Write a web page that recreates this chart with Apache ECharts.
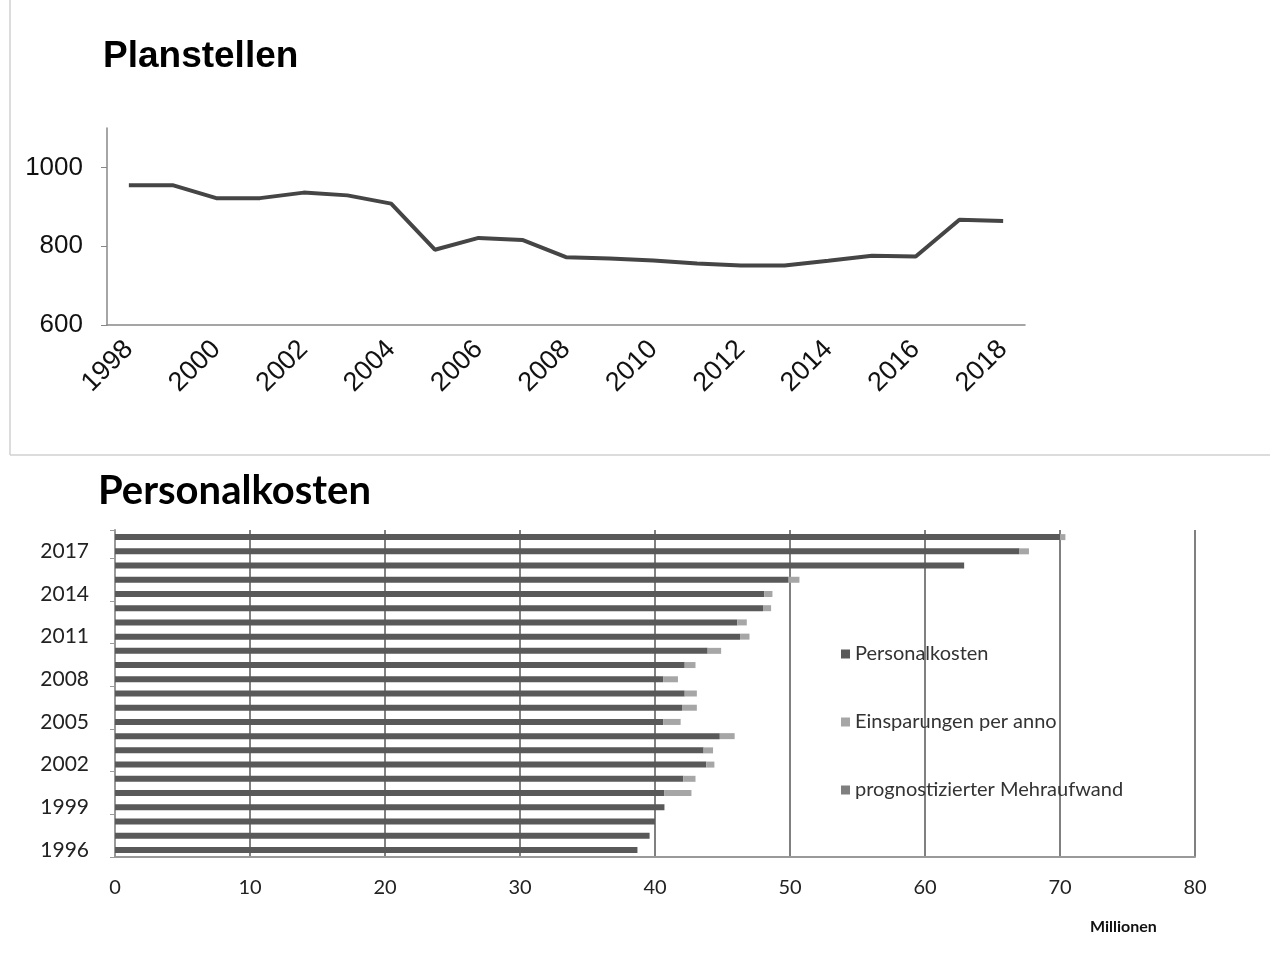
<!DOCTYPE html>
<html>
<head>
<meta charset="utf-8">
<script src="https://cdn.jsdelivr.net/npm/echarts@6/dist/echarts.min.js"></script>
<style>
  html, body { margin: 0; padding: 0; background: #fff; }
  #chart { width: 1275px; height: 962px; }
</style>
</head>
<body>
<div id="chart"></div>
<script>
// Planstellen (top line chart)
const stellenYears = ["1998","1999","2000","2001","2002","2003","2004","2005","2006","2007","2008",
  "2009","2010","2011","2012","2013","2014","2015","2016","2017","2018"];
const stellen = [955, 955, 922, 922, 936, 929, 908, 791, 821, 816, 772,
  769, 764, 756, 751, 751, 763, 776, 774, 867, 864];

// Personalkosten (bottom bar chart), Millionen, 1996 .. 2018
const kostenYears = ["1996","1997","1998","1999","2000","2001","2002","2003","2004","2005","2006",
  "2007","2008","2009","2010","2011","2012","2013","2014","2015","2016","2017","2018"];
const personalkosten = [38.7, 39.6, 40.0, 40.7, 40.7, 42.1, 43.8, 43.6, 44.8, 40.6, 42.0,
  42.2, 40.6, 42.2, 43.9, 46.3, 46.1, 48.0, 48.1, 49.9, 62.9, 67.0, 70.0];
const einsparungen = [0, 0, 0, 0, 2.0, 0.9, 0.6, 0.7, 1.1, 1.3, 1.1,
  0.9, 1.1, 0.8, 1.0, 0.7, 0.7, 0.6, 0.6, 0.8, 0, 0.7, 0.4];
const mehraufwand = [0, 0, 0, 0, 0, 0, 0, 0, 0, 0, 0,
  0, 0, 0, 0, 0, 0, 0, 0, 0, 0, 0, 0];

const chart = echarts.init(document.getElementById('chart'));

const topFont = 'Liberation Sans, Arial, sans-serif';
const botFont = 'Lato, Liberation Sans, sans-serif';

chart.setOption({
  backgroundColor: '#fff',
  animation: false,
  title: [
    { text: 'Planstellen', left: 98, top: 33,
      textStyle: { fontFamily: topFont, fontSize: 37, fontWeight: 'bold', color: '#000' } },
    { text: 'Personalkosten', left: 93, top: 466,
      textStyle: { fontFamily: botFont, fontSize: 40, fontWeight: 'bold', color: '#000' } },
    { text: 'Millionen', left: 1085, top: 914,
      textStyle: { fontFamily: botFont, fontSize: 16, fontWeight: 'bold', color: '#111' } }
  ],
  graphic: [
    { type: 'line', shape: { x1: 10, y1: 0, x2: 10, y2: 455 },
      style: { stroke: '#d0d0d0', lineWidth: 1.5 } },
    { type: 'line', shape: { x1: 10, y1: 455, x2: 1270, y2: 455 },
      style: { stroke: '#d0d0d0', lineWidth: 1.5 } }
  ],
  legend: {
    data: ['Personalkosten', 'Einsparungen per anno', 'prognostizierter Mehraufwand'],
    orient: 'vertical',
    left: 836, top: 639,
    itemWidth: 9, itemHeight: 9, itemGap: 48,
    icon: 'rect',
    textStyle: { fontFamily: botFont, fontSize: 20, color: '#333' }
  },
  grid: [
    { left: 107, top: 128, width: 918, height: 197 },
    { left: 115, top: 530, width: 1080, height: 327 }
  ],
  xAxis: [
    {
      gridIndex: 0, type: 'category', data: stellenYears, boundaryGap: true,
      axisLine: { lineStyle: { color: '#888', width: 1.5 } },
      axisTick: { length: 6, lineStyle: { color: '#888' } },
      axisLabel: { interval: 1, rotate: 45, margin: 20, fontFamily: topFont, fontSize: 27, color: '#111' }
    },
    {
      gridIndex: 1, type: 'value', min: 0, max: 80, interval: 10,
      axisLine: { show: true, lineStyle: { color: '#999', width: 2 } },
      axisTick: { show: false },
      splitLine: { show: true, lineStyle: { color: '#808080', width: 2 } },
      axisLabel: { margin: 21, fontFamily: botFont, fontSize: 20, color: '#222' }
    }
  ],
  yAxis: [
    {
      gridIndex: 0, type: 'value', min: 600, max: 1100, interval: 200,
      axisLine: { show: true, lineStyle: { color: '#888', width: 1.5 } },
      axisTick: { show: true, length: 6, lineStyle: { color: '#888' } },
      splitLine: { show: false },
      axisLabel: { showMaxLabel: false, margin: 24, fontFamily: topFont, fontSize: 26, color: '#111',
        formatter: v => String(v) }
    },
    {
      gridIndex: 1, type: 'category', data: kostenYears, boundaryGap: true,
      axisLine: { show: true, lineStyle: { color: '#999', width: 2 } },
      axisTick: { show: true, length: 5, lineStyle: { color: '#999' } },
      axisLabel: { interval: 2, margin: 26, fontFamily: botFont, fontSize: 21, color: '#222' }
    }
  ],
  series: [
    {
      name: 'Planstellen', type: 'line', xAxisIndex: 0, yAxisIndex: 0,
      data: stellen, showSymbol: false,
      lineStyle: { color: '#454545', width: 4 }
    },
    {
      name: 'Personalkosten', type: 'bar', xAxisIndex: 1, yAxisIndex: 1, stack: 'k',
      data: personalkosten, barWidth: 6,
      itemStyle: { color: '#595959' }
    },
    {
      name: 'Einsparungen per anno', type: 'bar', xAxisIndex: 1, yAxisIndex: 1, stack: 'k',
      data: einsparungen, barWidth: 6,
      itemStyle: { color: '#a6a6a6' }
    },
    {
      name: 'prognostizierter Mehraufwand', type: 'bar', xAxisIndex: 1, yAxisIndex: 1, stack: 'k',
      data: mehraufwand, barWidth: 6,
      itemStyle: { color: '#7f7f7f' }
    }
  ]
});
</script>
</body>
</html>
